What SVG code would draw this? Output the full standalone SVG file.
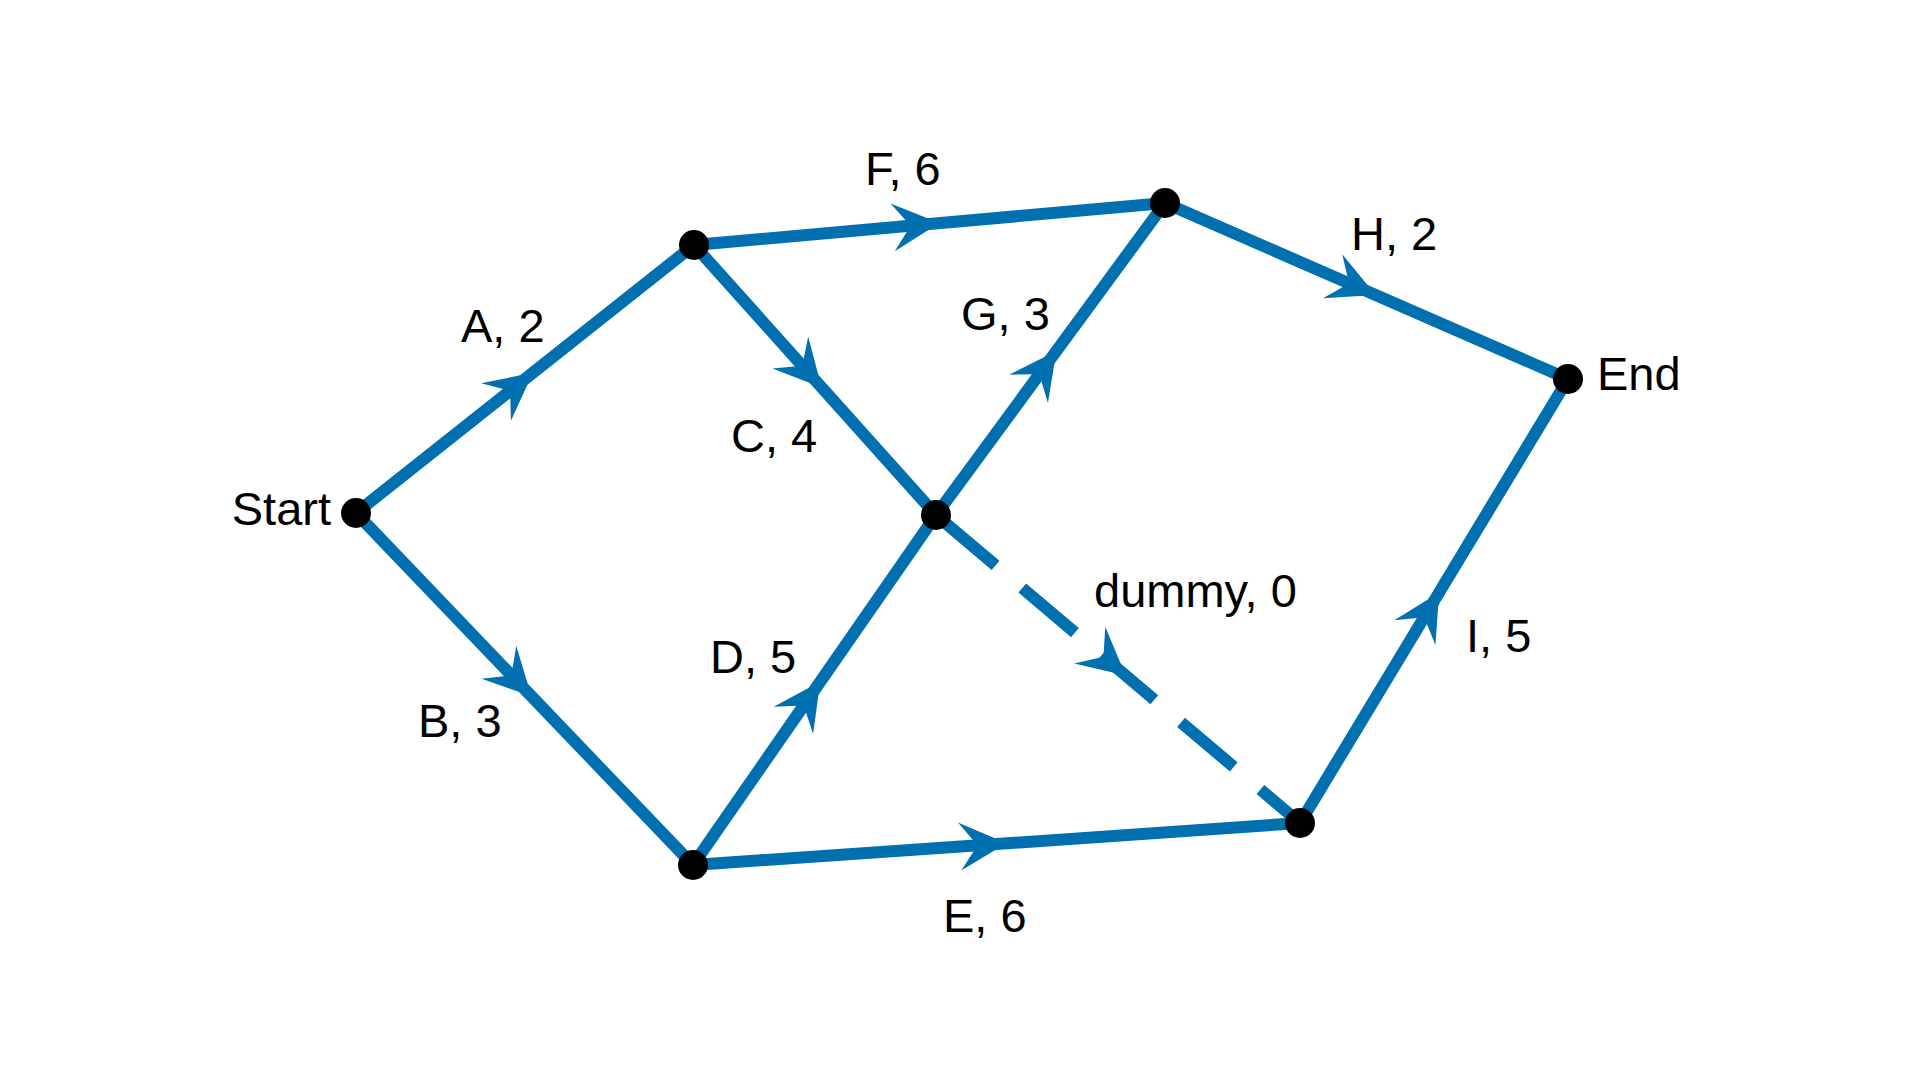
<svg xmlns="http://www.w3.org/2000/svg" width="1920" height="1080" viewBox="0 0 1920 1080">
  <style>
    .edge { fill: none; stroke: #0070B0; stroke-width: 12; marker-mid: url(#arr); }
    .dash { stroke-dasharray: 69 35; stroke-dashoffset: 95; }
    .node { fill: #000000; }
    .lbl { font-family: "Liberation Sans", Arial, sans-serif; font-size: 47px; fill: #000000; }
  </style>
  <defs>
    <marker id="arr" markerUnits="userSpaceOnUse" markerWidth="70" markerHeight="60" viewBox="-55 -30 70 60" refX="-10" refY="0" orient="auto" overflow="visible">
      <path d="M0,0 L-47,-24 L-29,0 L-47,24 Z" fill="#0070B0"/>
    </marker>
  </defs>
  <rect width="1920" height="1080" fill="#FFFFFF"/>
  <g id="connectors">
    <g id="edge-A"><path class="edge" d="M356,513 L525,379 L694,245"/><text class="lbl" x="461" y="342">A, 2</text></g>
    <g id="edge-B"><path class="edge" d="M356,513 L524.5,689 L693,865"/><text class="lbl" x="418" y="737">B, 3</text></g>
    <g id="edge-C"><path class="edge" d="M694,245 L815,380 L936,515"/><text class="lbl" x="731" y="452">C, 4</text></g>
    <g id="edge-F"><path class="edge" d="M694,245 L929.5,224 L1165,203"/><text class="lbl" x="865" y="185">F, 6</text></g>
    <g id="edge-D"><path class="edge" d="M693,865 L814.5,690 L936,515"/><text class="lbl" x="710" y="673">D, 5</text></g>
    <g id="edge-E"><path class="edge" d="M693,865 L996.5,844 L1300,823"/><text class="lbl" x="943" y="932">E, 6</text></g>
    <g id="edge-G"><path class="edge" d="M936,515 L1050.5,359 L1165,203"/><text class="lbl" x="961" y="330">G, 3</text></g>
    <g id="edge-H"><path class="edge" d="M1165,203 L1366.5,291 L1568,379"/><text class="lbl" x="1351" y="250">H, 2</text></g>
    <g id="edge-dummy"><path class="edge dash" d="M936,515 L1118,669 L1300,823"/><text class="lbl" x="1094" y="607">dummy, 0</text></g>
    <g id="edge-I"><path class="edge" d="M1300,823 L1434,601 L1568,379"/><text class="lbl" x="1466" y="652">I, 5</text></g>
  </g>
  <g id="node-start"><circle class="node" cx="356" cy="513" r="15"/><text class="lbl" x="331" y="525" text-anchor="end">Start</text></g>
  <g id="node-1"><circle class="node" cx="694" cy="245" r="15"/></g>
  <g id="node-2"><circle class="node" cx="1165" cy="203" r="15"/></g>
  <g id="node-3"><circle class="node" cx="936" cy="515" r="15"/></g>
  <g id="node-4"><circle class="node" cx="693" cy="865" r="15"/></g>
  <g id="node-5"><circle class="node" cx="1300" cy="823" r="15"/></g>
  <g id="node-end"><circle class="node" cx="1568" cy="379" r="15"/><text class="lbl" x="1597" y="390">End</text></g>
</svg>
